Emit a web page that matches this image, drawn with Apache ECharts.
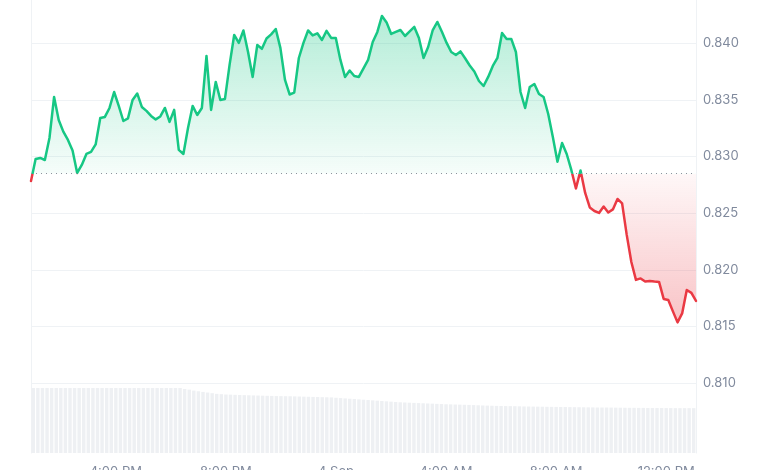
<!DOCTYPE html>
<html><head><meta charset="utf-8">
<script src="https://cdn.jsdelivr.net/npm/echarts@6/dist/echarts.min.js"></script>
<style>html,body{margin:0;padding:0;background:#fff}#c{width:780px;height:470px}</style>
</head><body><div id="c"></div>
<script>
// 10-minute samples, starting 13:00 (day 1) through 13:00 (day 2)
const prices = [
0.82785, 0.82979, 0.82988, 0.82970, 0.83164, 0.83526, 0.83323, 0.83220, 0.83147, 0.83054,
0.82856, 0.82926, 0.83023, 0.83041, 0.83107, 0.83341, 0.83350, 0.83429, 0.83570, 0.83447,
0.83314, 0.83337, 0.83500, 0.83557, 0.83438, 0.83403, 0.83359, 0.83328, 0.83354, 0.83429,
0.83306, 0.83412, 0.83059, 0.83023, 0.83253, 0.83447, 0.83367, 0.83429, 0.83888, 0.83412,
0.83659, 0.83500, 0.83509, 0.83809, 0.84073, 0.84003, 0.84113, 0.83923, 0.83703, 0.83985,
0.83951, 0.84042, 0.84078, 0.84126, 0.83959, 0.83676, 0.83548, 0.83564, 0.83870, 0.84003,
0.84113, 0.84069, 0.84088, 0.84029, 0.84109, 0.84047, 0.84047, 0.83853, 0.83703, 0.83760,
0.83711, 0.83703, 0.83778, 0.83853, 0.84011, 0.84100, 0.84241, 0.84184, 0.84082, 0.84100,
0.84117, 0.84064, 0.84104, 0.84144, 0.84047, 0.83870, 0.83967, 0.84117, 0.84188, 0.84100,
0.84003, 0.83923, 0.83897, 0.83928, 0.83868, 0.83804, 0.83751, 0.83667, 0.83623, 0.83703,
0.83800, 0.83870, 0.84091, 0.84038, 0.84038, 0.83923, 0.83570, 0.83429, 0.83614, 0.83641,
0.83553, 0.83526, 0.83376, 0.83173, 0.82955, 0.83120, 0.83023, 0.82882, 0.82719, 0.82878,
0.82679, 0.82551, 0.82520, 0.82503, 0.82560, 0.82507, 0.82534, 0.82626, 0.82587, 0.82309,
0.82070, 0.81912, 0.81925, 0.81897, 0.81903, 0.81898, 0.81894, 0.81744, 0.81735, 0.81634,
0.81537, 0.81616, 0.81823, 0.81797, 0.81726
];
const volumes = [
100, 100, 100, 100, 100, 100, 100, 100, 100, 100,
100, 100, 100, 100, 100, 100, 100, 100, 100, 100,
100, 100, 100, 100, 100, 100, 100, 100, 100, 100,
100, 100, 100, 98.5, 97.5, 96, 95, 94, 93, 92,
91, 90.5, 90, 89.8, 89.5, 89.3, 89, 88.8, 88.6, 88.4,
88.2, 88, 87.8, 87.6, 87.5, 87.4, 87.3, 87.1, 86.9, 86.7,
86.5, 86.3, 86.1, 85.9, 85.7, 85.5, 85, 84.5, 84, 83.5,
83, 82.5, 82, 81.5, 81, 80.5, 80, 79.5, 79, 78.5,
78, 77.7, 77.4, 77.1, 76.8, 76.5, 76.2, 75.9, 75.6, 75.3,
75, 74.8, 74.6, 74.4, 74.2, 74, 73.7, 73.4, 73.1, 72.9,
72.7, 72.5, 72.3, 72.2, 72.1, 72, 71.8, 71.6, 71.5, 71.4,
71.3, 71.2, 71.1, 71, 70.9, 70.8, 70.7, 70.6, 70.5, 70.4,
70.3, 70.2, 70.1, 70, 70, 70, 69.9, 69.8, 69.7, 69.6,
69.5, 69.5, 69.4, 69.4, 69.3, 69.3, 69.2, 69.2, 69.1, 69.1,
69, 69, 69, 69, 69
];
const baseline = 0.8285;              // open price (dotted reference line)
const yTicks = [0.805, 0.845, 0.005]; // min, max, step of the price axis
const xTickTimes  = ['16:00', '20:00', '00:00', '04:00', '08:00', '12:00'];
const xTickLabels = ['4:00 PM', '8:00 PM', '4 Sep', '4:00 AM', '8:00 AM', '12:00 PM'];

const categories = [];
for (let i = 0; i < prices.length; i++) {
  const m = (13 * 60 + i * 10) % 1440;
  categories.push(String(Math.floor(m / 60)).padStart(2, '0') + ':' + String(m % 60).padStart(2, '0'));
}

const GREEN = '#16c784', RED = '#ea3943';
const maxP = Math.max(...prices), minP = Math.min(...prices);
const lineCol = '#eff2f5';
const labelFont = {color: '#808a9d', fontFamily: 'Inter, "Liberation Sans", Arial, sans-serif'};

const chart = echarts.init(document.getElementById('c'), null, {renderer: 'canvas'});
chart.setOption({
  animation: false,
  grid: [
    {left: 31, right: 84, top: -13.4, height: 453.3, outerBoundsMode: 'none'},
    {left: 31, right: 84, top: 388, bottom: 17, outerBoundsMode: 'none'}
  ],
  xAxis: [
    {type: 'category', gridIndex: 0, data: categories, boundaryGap: false,
     axisLine: {show: false}, axisTick: {show: false}, axisLabel: {show: false}, splitLine: {show: false}},
    {type: 'category', gridIndex: 1, data: categories, boundaryGap: true,
     axisLine: {show: false}, axisTick: {show: false}, splitLine: {show: false},
     axisLabel: Object.assign({
       fontSize: 13, margin: 13,
       interval: (idx, val) => xTickTimes.includes(val),
       formatter: (val) => xTickLabels[xTickTimes.indexOf(val)] || ''
     }, labelFont)}
  ],
  yAxis: [
    {type: 'value', gridIndex: 0, position: 'right', min: yTicks[0], max: yTicks[1], interval: yTicks[2],
     axisLine: {show: true, lineStyle: {color: lineCol}}, axisTick: {show: false},
     axisLabel: Object.assign({fontSize: 13, margin: 7, showMinLabel: false, showMaxLabel: false,
       formatter: v => v.toFixed(3)}, labelFont),
     splitLine: {show: true, showMinLine: false, showMaxLine: false, lineStyle: {color: lineCol, width: 1}}},
    {type: 'value', gridIndex: 0, position: 'left', min: yTicks[0], max: yTicks[1],
     axisLine: {show: true, lineStyle: {color: lineCol}}, axisTick: {show: false},
     axisLabel: {show: false}, splitLine: {show: false}},
    {type: 'value', gridIndex: 1, position: 'right', min: 0, max: 100,
     axisLine: {show: true, lineStyle: {color: lineCol}}, axisTick: {show: false},
     axisLabel: {show: false}, splitLine: {show: false}},
    {type: 'value', gridIndex: 1, position: 'left', min: 0, max: 100,
     axisLine: {show: true, lineStyle: {color: lineCol}}, axisTick: {show: false},
     axisLabel: {show: false}, splitLine: {show: false}}
  ],
  series: []
});

// colour split at the baseline, computed through the axis scale
const yBase = chart.convertToPixel({yAxisIndex: 0}, baseline);
const yTop = chart.convertToPixel({yAxisIndex: 0}, maxP);
const yBot = chart.convertToPixel({yAxisIndex: 0}, minP);
const H = chart.getHeight();
const lineGrad = new echarts.graphic.LinearGradient(0, 0, 0, H, [
  {offset: 0, color: GREEN}, {offset: yBase / H, color: GREEN},
  {offset: yBase / H, color: RED}, {offset: 1, color: RED}
], true);
const fb = (yBase - yTop) / (yBot - yTop);
const areaGrad = new echarts.graphic.LinearGradient(0, yTop, 0, yBot, [
  {offset: 0, color: 'rgba(22,199,132,0.32)'},
  {offset: fb, color: 'rgba(22,199,132,0.04)'},
  {offset: fb, color: 'rgba(234,57,67,0.04)'},
  {offset: 1, color: 'rgba(234,57,67,0.30)'}
], true);

chart.setOption({series: [
  {
    type: 'line', xAxisIndex: 0, yAxisIndex: 0, data: prices,
    showSymbol: false, symbol: 'none', z: 3,
    lineStyle: {width: 2.5, color: lineGrad, join: 'round', cap: 'round'},
    areaStyle: {opacity: 1, color: areaGrad, origin: baseline},
    markLine: {
      silent: true, symbol: 'none', label: {show: false}, precision: 6,
      lineStyle: {type: [1, 4], color: '#8b929c', width: 1},
      data: [{yAxis: baseline}]
    }
  },
  {
    type: 'bar', xAxisIndex: 1, yAxisIndex: 2, data: volumes,
    barCategoryGap: '25%', itemStyle: {color: '#eef0f3'}, silent: true
  }
]});
</script></body></html>
